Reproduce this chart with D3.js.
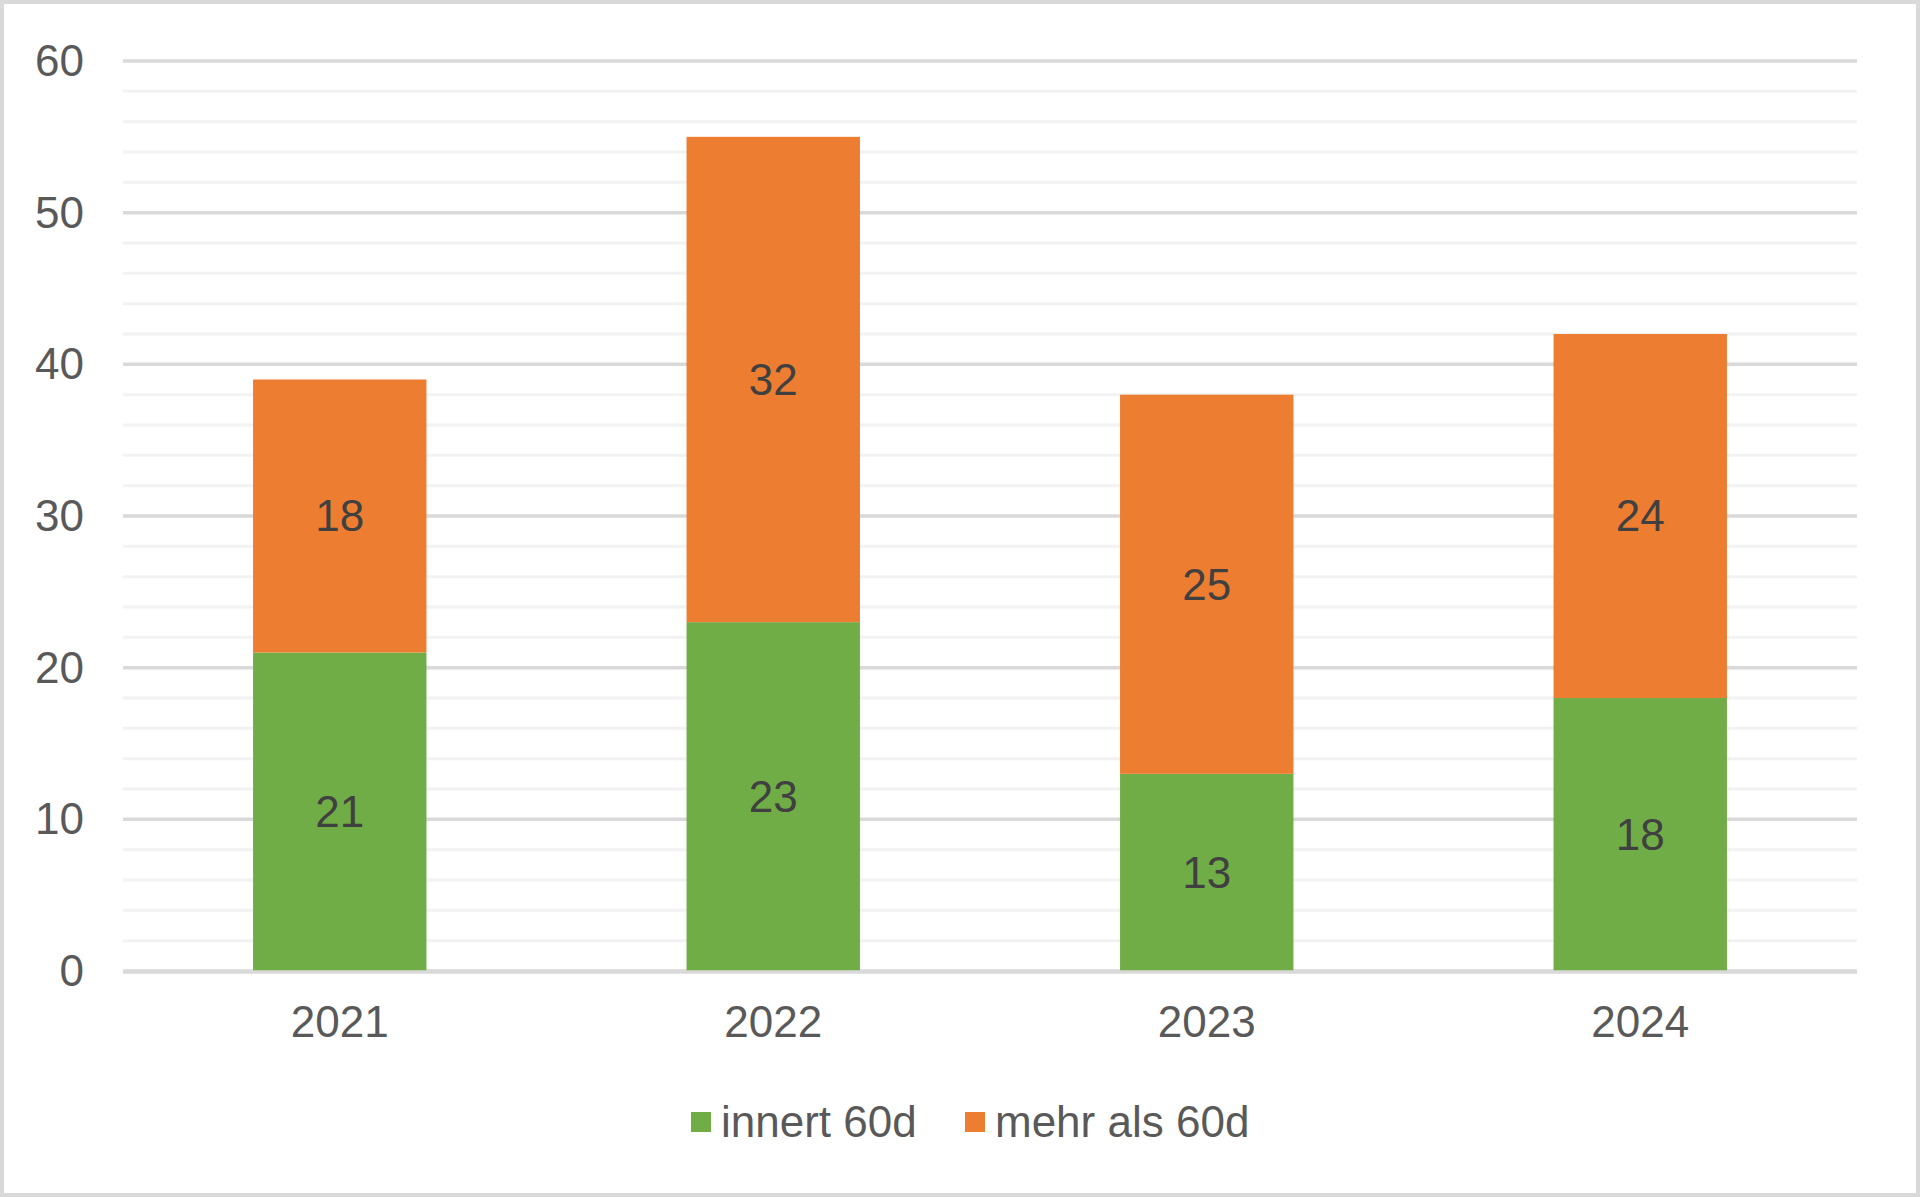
<!DOCTYPE html>
<html>
<head>
<meta charset="utf-8">
<script src="https://cdn.jsdelivr.net/npm/d3@7"></script>
<style>
html,body{margin:0;padding:0;background:#fff;}
svg{display:block;}
text{font-family:"Liberation Sans",Arial,sans-serif;}
</style>
</head>
<body>
<svg id="chart" width="1920" height="1197"></svg>
<script>
const years = ["2021", "2022", "2023", "2024"];
const innert60d = [21, 23, 13, 18];
const mehrAls60d = [18, 32, 25, 24];
const seriesNames = ["innert 60d", "mehr als 60d"];
const seriesColors = ["#70ad47", "#ed7d31"];
const yTicks = [0, 10, 20, 30, 40, 50, 60];
const minorTicks = d3.range(0, 61, 2).filter(v => v % 10 !== 0);

const W = 1920, H = 1197;
const FS = 44;
const svg = d3.select("#chart");

svg.append("rect").attr("x", 2).attr("y", 2).attr("width", W - 4).attr("height", H - 4)
  .attr("fill", "#fff").attr("stroke", "#d9d9d9").attr("stroke-width", 4);

const plot = {left: 123, right: 1857, top: 61, bottom: 971};
const x = d3.scaleBand().domain(years).range([plot.left, plot.right]).paddingInner(0.6).paddingOuter(0.3);
const y = d3.scaleLinear().domain([0, 60]).range([plot.bottom, plot.top]);

// minor gridlines
svg.append("g").selectAll("line").data(minorTicks).join("line")
  .attr("x1", plot.left).attr("x2", plot.right)
  .attr("y1", d => y(d)).attr("y2", d => y(d))
  .attr("stroke", "#f2f2f2").attr("stroke-width", 3);

// major gridlines
svg.append("g").selectAll("line").data(yTicks).join("line")
  .attr("x1", plot.left).attr("x2", plot.right)
  .attr("y1", d => y(d)).attr("y2", d => y(d))
  .attr("stroke", "#d9d9d9").attr("stroke-width", 3.5);

// y axis labels
const yAxis = d3.axisLeft(y).tickValues(yTicks).tickSize(0).tickPadding(0);
const yg = svg.append("g").attr("transform", `translate(${plot.left - 39},0)`).call(yAxis);
yg.select(".domain").remove();
yg.selectAll("text").attr("font-size", FS).attr("fill", "#595959")
  .attr("font-family", "Liberation Sans, Arial, sans-serif").attr("dy", "0.33em");

// stacked data
const data = years.map((yr, i) => ({year: yr, a: innert60d[i], b: mehrAls60d[i]}));
const stack = d3.stack().keys(["a", "b"])(data);

const groups = svg.append("g").selectAll("g").data(stack).join("g")
  .attr("fill", (d, i) => seriesColors[i]);
groups.selectAll("rect").data(d => d).join("rect")
  .attr("x", d => x(d.data.year))
  .attr("width", x.bandwidth())
  .attr("y", d => y(d[1]))
  .attr("height", d => y(d[0]) - y(d[1]));

// redraw zero axis line on top
svg.append("line").attr("x1", plot.left).attr("x2", plot.right)
  .attr("y1", y(0) + 1).attr("y2", y(0) + 1)
  .attr("stroke", "#d9d9d9").attr("stroke-width", 3.5);

// data labels
const labels = svg.append("g");
stack.forEach(s => {
  labels.selectAll(null).data(s).join("text")
    .attr("x", d => x(d.data.year) + x.bandwidth() / 2)
    .attr("y", d => y((d[0] + d[1]) / 2))
    .attr("dy", "0.35em")
    .attr("text-anchor", "middle")
    .attr("font-size", FS)
    .attr("fill", "#404040")
    .text(d => d[1] - d[0]);
});

// x axis labels
const xAxis = d3.axisBottom(x).tickSize(0).tickPadding(0);
const xg = svg.append("g").attr("transform", `translate(0,${plot.bottom + 66})`).call(xAxis);
xg.select(".domain").remove();
xg.selectAll("text").attr("font-size", FS).attr("fill", "#595959")
  .attr("font-family", "Liberation Sans, Arial, sans-serif").attr("dy", 0);

// legend
const legendItems = [
  {name: seriesNames[0], color: seriesColors[0], x: 691},
  {name: seriesNames[1], color: seriesColors[1], x: 965}
];
const lg = svg.append("g");
legendItems.forEach(it => {
  lg.append("rect").attr("x", it.x).attr("y", 1112).attr("width", 20).attr("height", 20).attr("fill", it.color);
  lg.append("text").attr("x", it.x + 30).attr("y", 1137).attr("font-size", FS).attr("fill", "#595959").text(it.name);
});
</script>
</body>
</html>
